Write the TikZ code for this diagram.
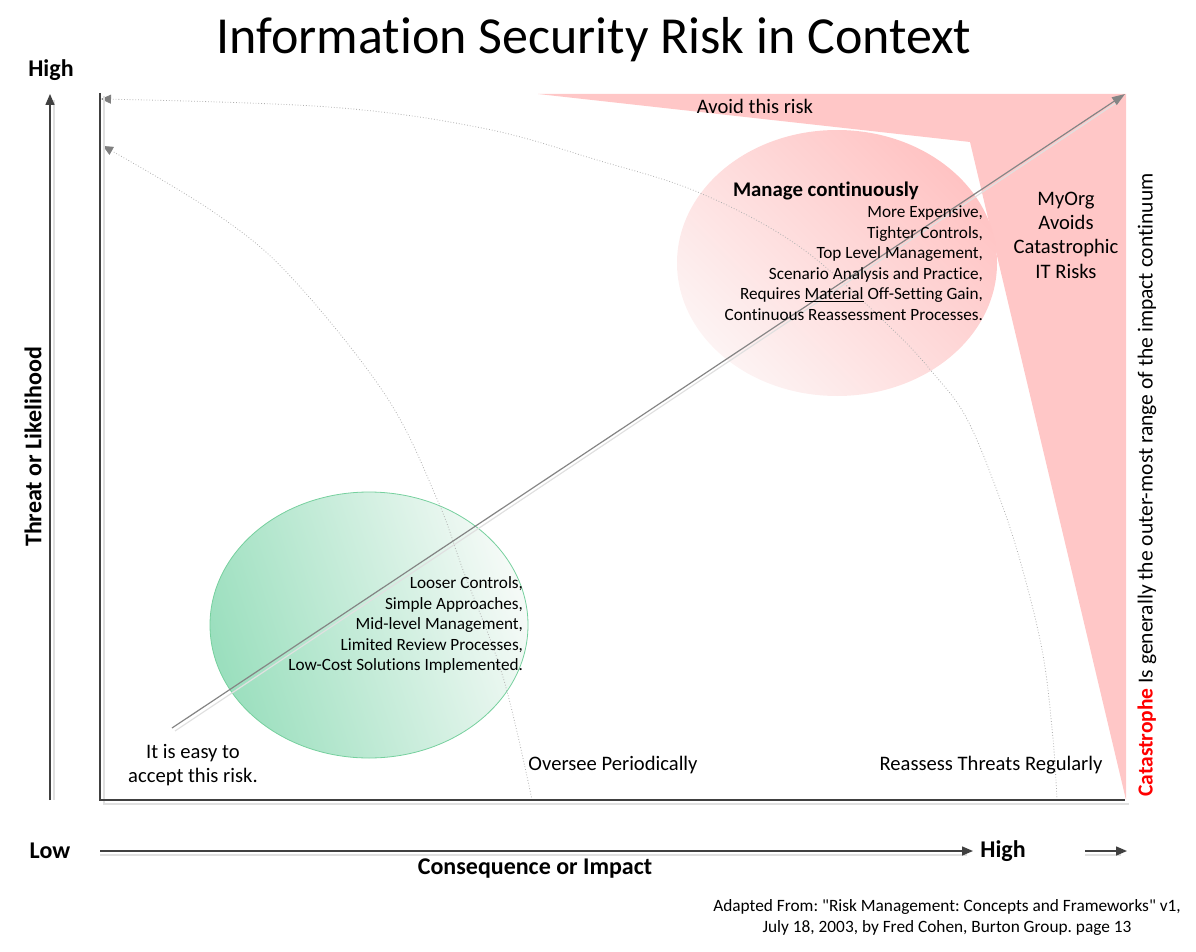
\documentclass[tikz,border=0pt]{standalone}
\usepackage{fontspec}
\setmainfont{Carlito}[Ligatures={NoCommon}]
\setmonofont{Carlito}[Ligatures={NoCommon}]
\usetikzlibrary{arrows.meta,shapes.geometric}
\definecolor{axisgray}{HTML}{404040}
\definecolor{shadowgray}{HTML}{E0E0E0}
\definecolor{arcgray}{HTML}{B0B0B0}
\definecolor{tipgray}{HTML}{7F7F7F}
\definecolor{diaggray}{HTML}{858585}
\definecolor{riskred}{RGB}{255,199,199}
\definecolor{pinkdark}{RGB}{255,195,195}
\definecolor{pinklight}{RGB}{253,243,243}
\definecolor{greendark}{RGB}{155,223,190}
\definecolor{greenlight}{RGB}{245,250,247}
\definecolor{greenedge}{RGB}{118,208,158}
\definecolor{catred}{RGB}{255,0,0}
\newcommand{\fsz}[2]{\fontsize{#1}{#2}\selectfont}
\newcommand{\sq}{{\ttfamily"}}
\frenchspacing
\begin{document}
\begin{tikzpicture}[x=1pt,y=-1pt,
  lbl/.style={inner sep=0pt, outer sep=0pt, text=black},
  body/.style={lbl, font=\fsz{17.2}{20.5}},
  mid/.style={lbl, font=\fsz{20.6}{24.4}},
  bodyb/.style={lbl, font=\fsz{24}{28}\bfseries},
  axisline/.style={axisgray, line width=1.5pt},
  axisarrow/.style={axisline, -{Triangle[length=11pt,width=9pt]}},
  shadowline/.style={shadowgray, line width=1.5pt},
  arcline/.style={arcgray, line width=0.8pt, dotted, -{Triangle[length=10pt,width=9pt,color=tipgray]}},
  diagarrow/.style={diaggray, line width=1.2pt, -{Triangle[length=13pt,width=9pt]}}
]
\useasboundingbox (0,0) rectangle (1196,952);

% red avoid region
\fill[riskred] (538,94) -- (1126,94) -- (1126,800) -- (970,142) -- cycle;

% ellipses
\node[ellipse, minimum width=320pt, minimum height=266pt, inner sep=0pt,
      top color=pinkdark, bottom color=pinklight, shading angle=-45] (mgmt) at (837,263) {};
\node[ellipse, minimum width=318pt, minimum height=266pt, inner sep=0pt, draw=greenedge, line width=0.8pt,
      top color=greenlight, bottom color=greendark, shading angle=-72] (accept) at (369,625) {};

% frame coordinates
\coordinate (ftl) at (100,93);
\coordinate (fbl) at (100,800);
\coordinate (fbr) at (1125,800);
\coordinate (yaS) at (50,800);
\coordinate (yaE) at (50,94);
\coordinate (xaS) at (100,851);
\coordinate (xaE) at (973,851);
\coordinate (xbS) at (1085,851);
\coordinate (xbE) at (1127,851);

% dotted arcs
\coordinate (oS) at (1057,800);
\coordinate (oE) at (101,99);
\draw[arcline] plot[smooth, tension=0.6] coordinates {(oS) (1053,739) (1043,655) (1023,571) (1000,499) (967,419) (933,373) (890,327) (800,247) (700,193) (597,160) (482,128) (329,107) (oE)};
\coordinate (iS) at (532,800);
\coordinate (iE) at (103,146);
\draw[arcline] plot[smooth, tension=0.6] coordinates {(iS) (503,677) (463,570) (437,499) (386,396) (291,277) (215,213) (iE)};

% shadows
\draw[shadowline] ([shift={(4,0)}]yaS) -- ([shift={(4,6)}]yaE);
\draw[shadowline] ([shift={(4,3)}]ftl) -- ([shift={(4,4)}]fbl) -- ([shift={(4,4)}]fbr);
\draw[shadowline] ([shift={(0,4)}]xaS) -- ([shift={(-6,4)}]xaE);
\draw[shadowline] ([shift={(0,4)}]xbS) -- ([shift={(-6,4)}]xbE);

% axes and frame
\draw[axisarrow] (yaS) -- (yaE);
\draw[axisline] (ftl) -- (fbl) -- (fbr);
\draw[axisarrow] (xaS) -- (xaE);
\draw[axisarrow] (xbS) -- (xbE);

% diagonal arrow
\coordinate (dS) at (172,728);
\coordinate (dE) at (1125,94);
\draw[shadowgray, line width=1.2pt] ([shift={(3,3)}]dS) -- ([shift={(-6,7)}]dE);
\draw[diagarrow] (dS) -- (dE);

% texts
\node[lbl, font=\fsz{52}{62}] (title) at (594,40) {Information Security Risk in Context};
\node[bodyb] (yhigh) at (51,70) {High};
\node[bodyb, rotate=90] (ylabel) at (33,447) {Threat or Likelihood};
\node[bodyb] (xlow) at (50,851) {Low};
\node[bodyb] (xhigh) at (1003,851) {High};
\node[bodyb] (xlabel) at (535,869) {Consequence or Impact};
\node[lbl, font=\fsz{17.3}{21}, align=center] (credit) at (947,917) {Adapted From: \sq Risk Management: Concepts and Frameworks\sq{} v1,\\July 18, 2003, by Fred Cohen, Burton Group. page 13};
\node[mid] (avoid) at (755,106) {Avoid this risk};
\node[lbl, font=\fsz{20.8}{24}\bfseries, anchor=west] (mhead) at (733,191) {Manage continuously};
\node[body, align=right, anchor=east] (mlist) at (983,263) {More Expensive,\\Tighter Controls,\\Top Level Management,\\Scenario Analysis and Practice,\\Requires \underline{Material} Off-Setting Gain,\\Continuous Reassessment Processes.};
\node[mid, align=center] (myorg) at (1066,235) {MyOrg\\Avoids\\Catastrophic\\IT Risks};
\node[lbl, font=\fsz{21.5}{25}, rotate=90] (cat) at (1147,485) {{\color{catred}\bfseries Catastrophe} Is generally the outer-most range of the impact continuum};
\node[mid, align=center] (easy) at (193,765) {It is easy to\\accept this risk.};
\node[mid] (oversee) at (613,765) {Oversee Periodically};
\node[mid] (reassess) at (991,765) {Reassess Threats Regularly};
\node[body, align=right, anchor=east] (alist) at (523,625) {Looser Controls,\\Simple Approaches,\\Mid-level Management,\\Limited Review Processes,\\Low-Cost Solutions Implemented.};
\end{tikzpicture}
\end{document}
